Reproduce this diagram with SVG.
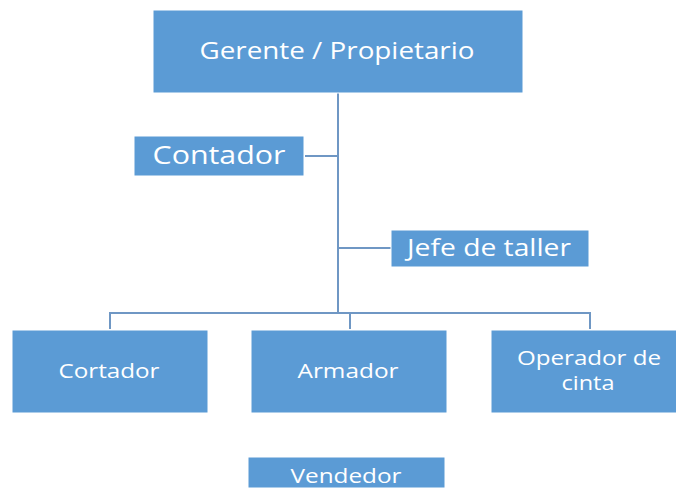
<svg xmlns="http://www.w3.org/2000/svg" width="676" height="488" viewBox="0 0 676 488">
<style>
.box{fill:#5b9bd5;stroke:#ffffff;stroke-width:1}
.t{fill:#ffffff;font-family:"Open Sans","Noto Sans",sans-serif;text-anchor:middle}
.ln{fill:none;stroke:#6f97c4;stroke-width:2}
</style>
<rect width="676" height="488" fill="#ffffff"/>
<g id="connectors">
<path class="ln" d="M338,93 V313"/>
<path class="ln" d="M305,156 H338"/>
<path class="ln" d="M338,248 H391"/>
<path class="ln" d="M110,329 V313 H590 V329"/>
<path class="ln" d="M350,313 V329"/>
</g>
<g id="gerente">
<rect class="box" x="153" y="10" width="370" height="83"/>
<text class="t" x="337" y="59" font-size="23" textLength="275" lengthAdjust="spacingAndGlyphs">Gerente / Propietario</text>
</g>
<g id="contador">
<rect class="box" x="134" y="136" width="170" height="40"/>
<text class="t" x="219" y="164" font-size="26" textLength="133" lengthAdjust="spacingAndGlyphs">Contador</text>
</g>
<g id="jefe">
<rect class="box" x="391" y="230" width="198" height="37"/>
<text class="t" x="489" y="256" font-size="23" textLength="164" lengthAdjust="spacingAndGlyphs">Jefe de taller</text>
</g>
<g id="cortador">
<rect class="box" x="12" y="330" width="196" height="83"/>
<text class="t" x="109" y="378" font-size="20" textLength="101" lengthAdjust="spacingAndGlyphs">Cortador</text>
</g>
<g id="armador">
<rect class="box" x="251" y="330" width="196" height="83"/>
<text class="t" x="348" y="378" font-size="20" textLength="101" lengthAdjust="spacingAndGlyphs">Armador</text>
</g>
<g id="operador">
<rect class="box" x="491" y="330" width="190" height="83"/>
<text class="t" x="589" y="365" font-size="20" textLength="144" lengthAdjust="spacingAndGlyphs">Operador de</text>
<text class="t" x="588" y="390" font-size="20" textLength="53" lengthAdjust="spacingAndGlyphs">cinta</text>
</g>
<g id="vendedor">
<rect class="box" x="248" y="457" width="197" height="31"/>
<text class="t" x="346" y="483" font-size="20" textLength="111" lengthAdjust="spacingAndGlyphs">Vendedor</text>
</g>
</svg>
